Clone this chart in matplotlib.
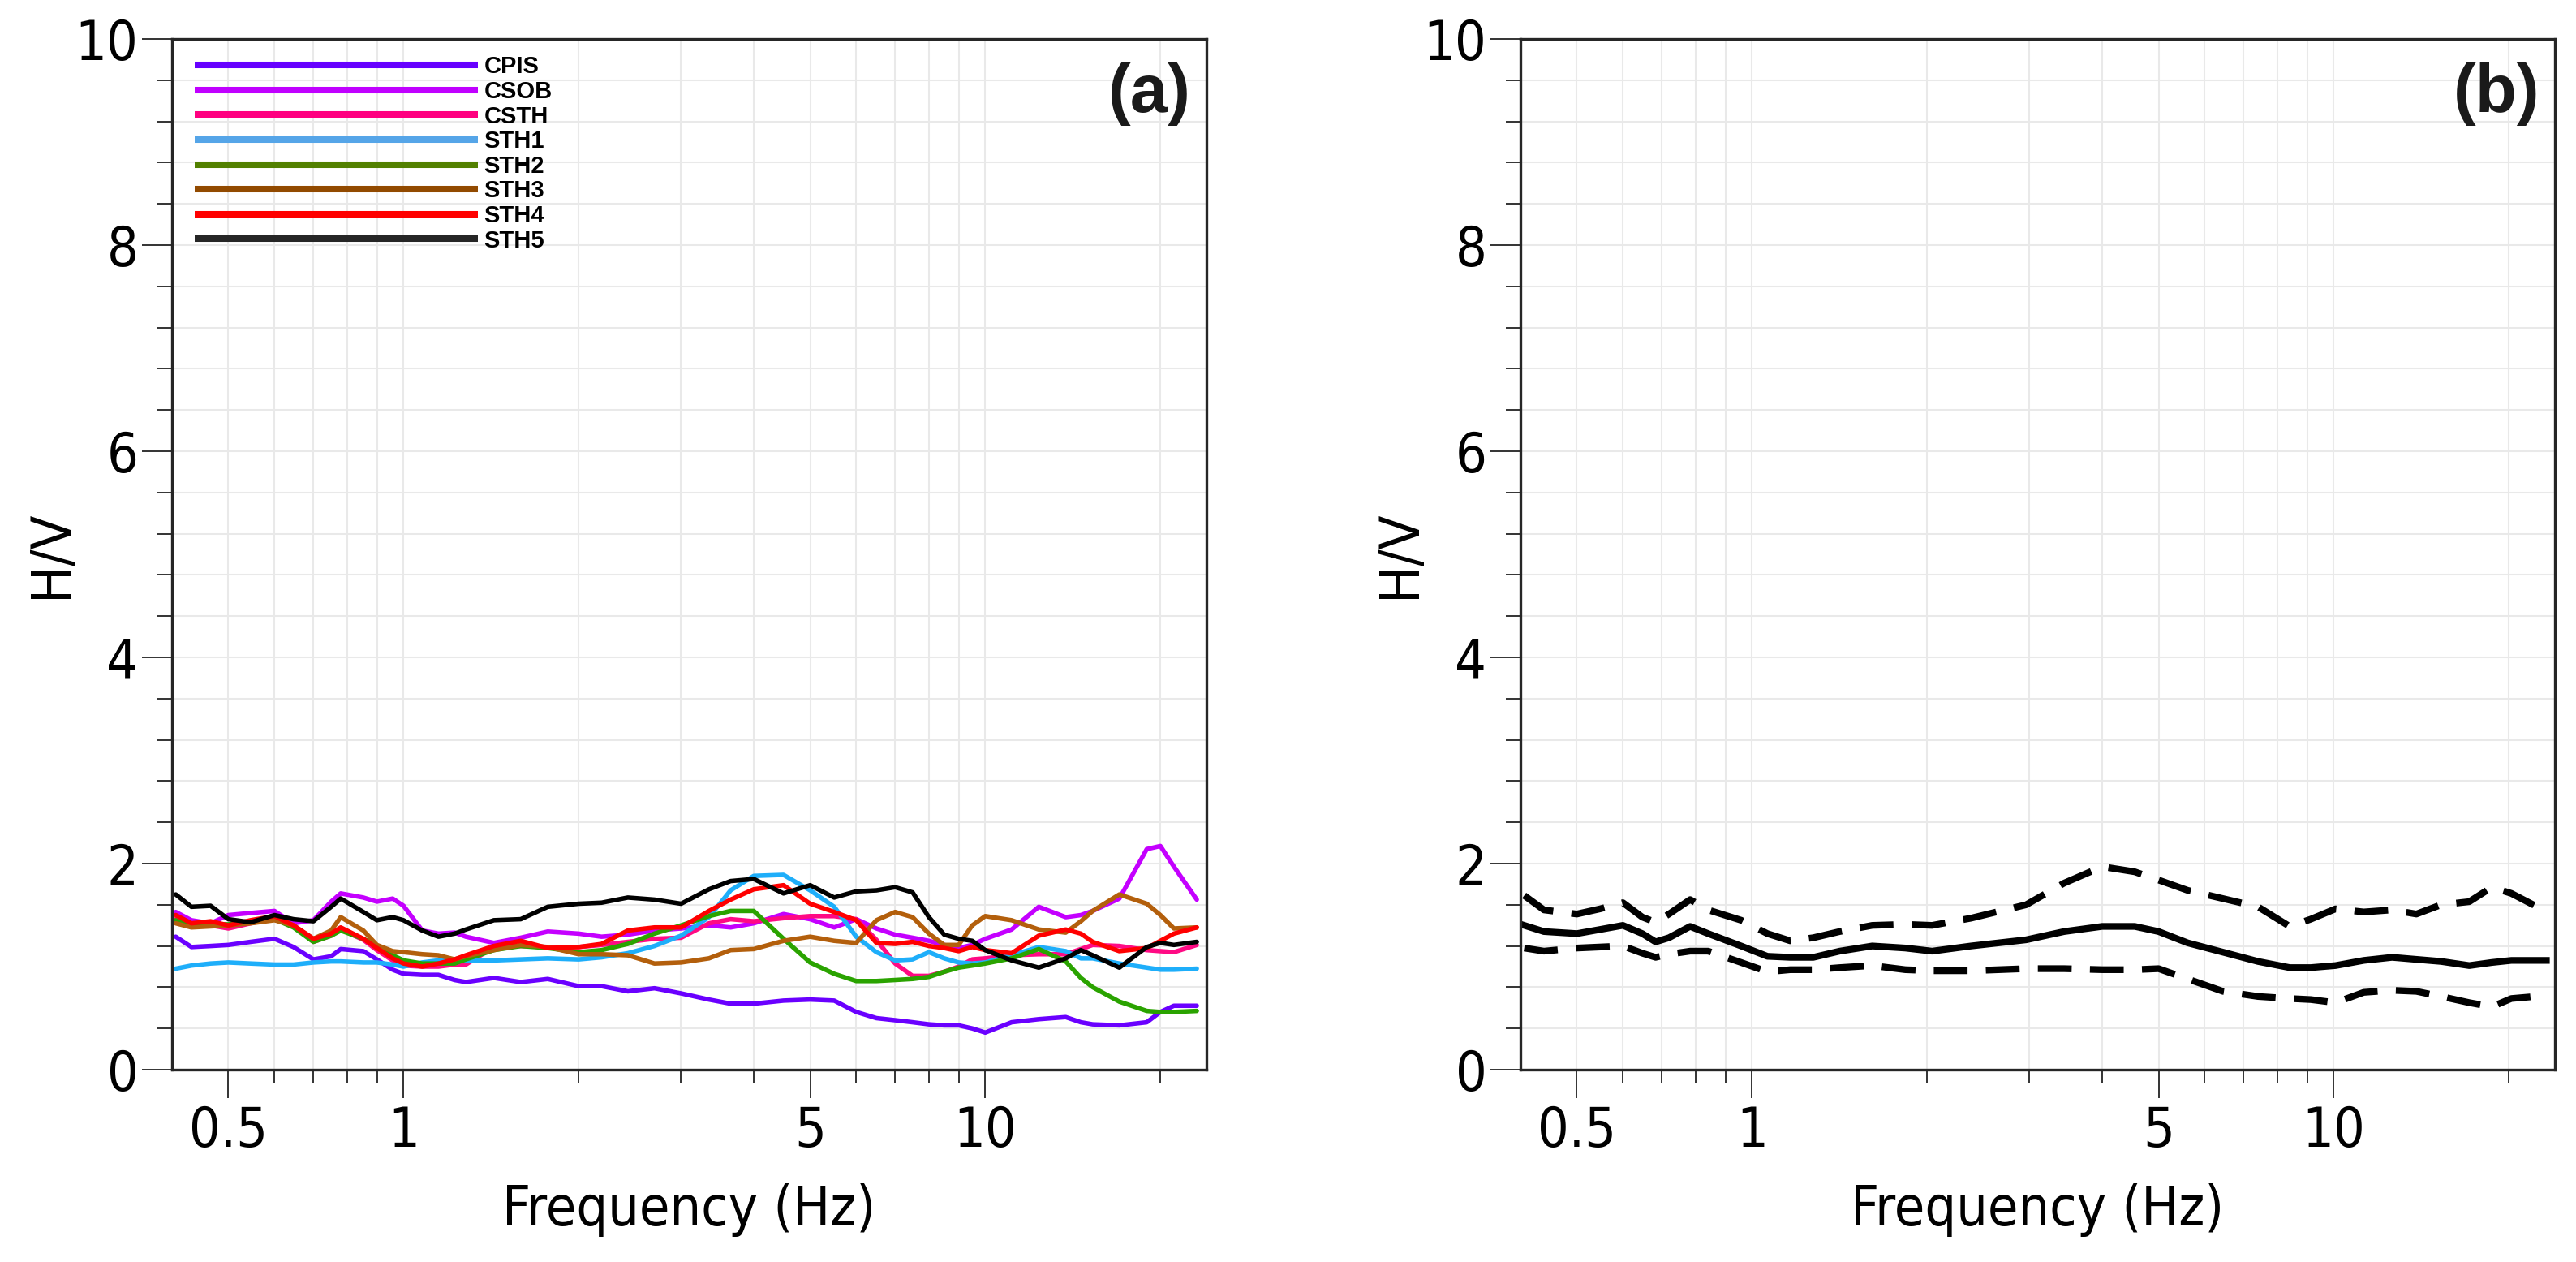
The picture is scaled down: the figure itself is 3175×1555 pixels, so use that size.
import matplotlib
matplotlib.use('Agg')
import matplotlib.pyplot as plt
from matplotlib.ticker import MultipleLocator, NullFormatter
from matplotlib.lines import Line2D

# ---------------- data: panel (a) ----------------
freq_a = [0.406, 0.432, 0.466, 0.5, 0.546, 0.6, 0.647, 0.7, 0.751, 0.78, 0.853, 0.9, 0.958, 1.0,
          1.077, 1.148, 1.224, 1.28, 1.43, 1.59, 1.77, 2.0, 2.19, 2.43, 2.70, 3.0, 3.35, 3.65,
          4.0, 4.5, 5.0, 5.5, 6.0, 6.5, 7.0, 7.5, 8.0, 8.5, 9.0, 9.5, 10.0,
          11.1, 12.36, 13.75, 14.6, 15.3, 17.0, 18.95, 20.0, 21.1, 23.1]

cpis = [1.29, 1.19, 1.20, 1.21, 1.24, 1.27, 1.19, 1.07, 1.10, 1.17, 1.15, 1.07, 0.97, 0.93, 0.92, 0.92, 0.87,
        0.85, 0.89, 0.85, 0.88, 0.81, 0.81, 0.76, 0.79, 0.74, 0.68, 0.64,
        0.64, 0.67, 0.68, 0.67, 0.56, 0.50, 0.48, 0.46, 0.44, 0.43, 0.43, 0.40, 0.36,
        0.46, 0.49, 0.51, 0.46, 0.44, 0.43, 0.46, 0.56, 0.62, 0.62]
csob = [1.53, 1.45, 1.42, 1.50, 1.52, 1.54, 1.42, 1.45, 1.63, 1.71, 1.67, 1.63, 1.66, 1.59, 1.35, 1.32, 1.33,
        1.29, 1.23, 1.28, 1.34, 1.32, 1.29, 1.31, 1.35, 1.37, 1.40, 1.38,
        1.42, 1.51, 1.46, 1.38, 1.46, 1.37, 1.31, 1.28, 1.25, 1.21, 1.18, 1.21, 1.27,
        1.36, 1.58, 1.48, 1.50, 1.54, 1.66, 2.14, 2.17, 1.97, 1.65]
csth = [1.46, 1.40, 1.40, 1.37, 1.42, 1.47, 1.40, 1.24, 1.30, 1.36, 1.26, 1.16, 1.06, 1.01, 1.00, 1.00, 1.02,
        1.02, 1.19, 1.20, 1.19, 1.19, 1.21, 1.24, 1.27, 1.28, 1.42, 1.46,
        1.44, 1.47, 1.49, 1.49, 1.46, 1.26, 1.03, 0.91, 0.91, 0.95, 1.00, 1.07, 1.08,
        1.11, 1.12, 1.12, 1.17, 1.21, 1.20, 1.16, 1.15, 1.14, 1.21]
sth1 = [0.98, 1.01, 1.03, 1.04, 1.03, 1.02, 1.02, 1.04, 1.05, 1.05, 1.04, 1.04, 1.02, 1.00, 1.04, 1.06, 1.07,
        1.06, 1.06, 1.07, 1.08, 1.07, 1.09, 1.13, 1.20, 1.30, 1.48, 1.74,
        1.88, 1.89, 1.74, 1.58, 1.29, 1.14, 1.06, 1.07, 1.14, 1.08, 1.04, 1.03, 1.04,
        1.11, 1.19, 1.15, 1.08, 1.08, 1.03, 0.99, 0.97, 0.97, 0.98]
sth2 = [1.45, 1.40, 1.41, 1.41, 1.43, 1.46, 1.38, 1.24, 1.30, 1.35, 1.27, 1.20, 1.11, 1.06, 1.03, 1.03, 1.03,
        1.07, 1.16, 1.20, 1.18, 1.14, 1.16, 1.22, 1.32, 1.40, 1.49, 1.54,
        1.54, 1.27, 1.04, 0.93, 0.86, 0.86, 0.87, 0.88, 0.90, 0.95, 0.99, 1.01, 1.03,
        1.08, 1.17, 1.05, 0.89, 0.80, 0.66, 0.57, 0.56, 0.56, 0.57]
sth3 = [1.42, 1.38, 1.39, 1.40, 1.42, 1.45, 1.40, 1.27, 1.35, 1.48, 1.35, 1.21, 1.15, 1.14, 1.12, 1.11, 1.07,
        1.10, 1.16, 1.21, 1.19, 1.12, 1.12, 1.11, 1.03, 1.04, 1.08, 1.16,
        1.17, 1.25, 1.29, 1.25, 1.23, 1.45, 1.53, 1.48, 1.32, 1.21, 1.21, 1.40, 1.49,
        1.45, 1.36, 1.33, 1.44, 1.54, 1.70, 1.61, 1.50, 1.37, 1.38]
sth4 = [1.50, 1.42, 1.44, 1.40, 1.45, 1.49, 1.40, 1.27, 1.32, 1.38, 1.27, 1.18, 1.08, 1.03, 1.00, 1.03, 1.07,
        1.11, 1.20, 1.25, 1.18, 1.19, 1.22, 1.35, 1.38, 1.38, 1.54, 1.65,
        1.75, 1.79, 1.61, 1.53, 1.45, 1.23, 1.22, 1.24, 1.20, 1.18, 1.15, 1.19, 1.16,
        1.13, 1.30, 1.36, 1.32, 1.24, 1.15, 1.18, 1.25, 1.32, 1.38]
sth5 = [1.70, 1.58, 1.59, 1.46, 1.43, 1.50, 1.46, 1.44, 1.58, 1.66, 1.53, 1.45, 1.48, 1.45, 1.35, 1.29, 1.32,
        1.36, 1.45, 1.46, 1.58, 1.61, 1.62, 1.67, 1.65, 1.61, 1.75, 1.83,
        1.85, 1.71, 1.79, 1.67, 1.73, 1.74, 1.77, 1.72, 1.48, 1.31, 1.27, 1.25, 1.16,
        1.06, 0.99, 1.08, 1.16, 1.11, 0.99, 1.19, 1.23, 1.21, 1.24]

station_names = ['CPIS', 'CSOB', 'CSTH', 'STH1', 'STH2', 'STH3', 'STH4', 'STH5']
station_series = [cpis, csob, csth, sth1, sth2, sth3, sth4, sth5]
line_colors = ['#6A00FF', '#C400FF', '#FF0A84', '#1EAEFA', '#2AA300', '#B35F0C', '#FF0000', '#000000']
legend_colors = ['#6600FF', '#C000FF', '#FF0080', '#55A5E8', '#528000', '#924A00', '#FF0000', '#262626']

# ---------------- data: panel (b) ----------------
freq_b = [0.406, 0.439, 0.5, 0.548, 0.6, 0.648, 0.683, 0.72, 0.783, 0.841, 0.958, 1.063, 1.164, 1.275,
          1.415, 1.61, 1.835, 2.04, 2.38, 2.96, 3.44, 4.0, 4.55, 5.0, 5.61, 6.45, 7.41, 8.4, 9.13,
          10.07, 11.26, 12.6, 13.87, 15.3, 17.1, 18.7, 20.2, 22.2, 23.2]
hv_mean = [1.40, 1.34, 1.32, 1.36, 1.40, 1.32, 1.24, 1.28, 1.39, 1.32, 1.20, 1.10, 1.09, 1.09,
           1.15, 1.20, 1.18, 1.15, 1.20, 1.26, 1.34, 1.39, 1.39, 1.34, 1.23, 1.14, 1.05, 0.99, 0.99,
           1.01, 1.06, 1.09, 1.07, 1.05, 1.01, 1.04, 1.06, 1.06, 1.06]
hv_upper = [1.69, 1.55, 1.51, 1.56, 1.62, 1.48, 1.43, 1.51, 1.65, 1.55, 1.45, 1.32, 1.25, 1.28,
            1.34, 1.40, 1.41, 1.40, 1.47, 1.60, 1.81, 1.97, 1.92, 1.84, 1.74, 1.66, 1.58, 1.39, 1.46,
            1.56, 1.53, 1.55, 1.51, 1.60, 1.63, 1.77, 1.71, 1.59, 1.55]
hv_lower = [1.18, 1.15, 1.18, 1.19, 1.20, 1.13, 1.09, 1.12, 1.15, 1.15, 1.04, 0.95, 0.97, 0.97,
            0.99, 1.01, 0.97, 0.96, 0.96, 0.98, 0.98, 0.97, 0.97, 0.98, 0.88, 0.76, 0.71, 0.69, 0.68,
            0.65, 0.75, 0.77, 0.76, 0.71, 0.65, 0.61, 0.69, 0.71, 0.72]

x_major = [0.5, 1, 5, 10]
x_major_labels = ['0.5', '1', '5', '10']
x_minor = [0.6, 0.7, 0.8, 0.9, 2, 3, 4, 6, 7, 8, 9, 20]

# ---------------- figure ----------------
plt.rcParams['font.family'] = ['DejaVu Sans']
plt.rcParams['font.stretch'] = 'condensed'

W, H = 3175, 1555
fig = plt.figure(figsize=(W / 100, H / 100), dpi=100)
fig.patch.set_facecolor('white')

ax_h = 1270 / H
ax_w = 1275 / W
ax_bot = (H - 1318) / H
ax_a = fig.add_axes([212 / W, ax_bot, ax_w, ax_h])
ax_b = fig.add_axes([1874 / W, ax_bot, ax_w, ax_h])

LABEL_FS = 49


def style_axes(ax, tag):
    ax.set_xscale('log')
    ax.set_xlim(0.4, 24)
    ax.set_ylim(0, 10)
    ax.set_xticks(x_major, labels=x_major_labels)
    ax.set_xticks(x_minor, minor=True)
    ax.xaxis.set_minor_formatter(NullFormatter())
    ax.yaxis.set_major_locator(MultipleLocator(2))
    ax.yaxis.set_minor_locator(MultipleLocator(0.4))
    ax.grid(which='both', color='#e9e9e9', lw=1.5)
    ax.set_axisbelow(True)
    for sp in ax.spines.values():
        sp.set_linewidth(2.4)
        sp.set_color('#262626')
    ax.tick_params(axis='both', which='both', direction='out', color='#333333', width=1.4,
                   labelsize=LABEL_FS)
    ax.tick_params(axis='x', which='major', length=25, pad=6)
    ax.tick_params(axis='x', which='minor', length=12)
    ax.tick_params(axis='y', which='major', length=27, pad=3)
    ax.tick_params(axis='y', which='minor', length=13)
    ax.set_xlabel('Frequency (Hz)', fontsize=LABEL_FS)
    ax.set_ylabel('H/V', fontsize=LABEL_FS)
    ax.xaxis.set_label_coords(0.5, -0.110)
    ax.yaxis.set_label_coords(-0.117, 0.5)
    ax.yaxis.label.set_verticalalignment('center')
    ax.text(0.985, 0.977, tag, transform=ax.transAxes, ha='right', va='top',
            fontsize=60, fontweight='bold', family=['Liberation Sans', 'DejaVu Sans'],
            fontstretch='normal', color='#1a1a1a')


style_axes(ax_a, '(a)')
style_axes(ax_b, '(b)')

# panel (a) curves
for name, vals, col in zip(station_names, station_series, line_colors):
    ax_a.plot(freq_a, vals, color=col, lw=4.0, solid_joinstyle='round', solid_capstyle='round')

handles = [Line2D([0], [0], color=c, lw=5.8, solid_capstyle='butt') for c in legend_colors]
ax_a.legend(handles, station_names, loc='upper left', bbox_to_anchor=(0.022, 0.984),
            frameon=False, borderpad=0, borderaxespad=0, handlelength=11.95,
            handletextpad=0.27, labelspacing=0.09,
            prop={'family': ['Liberation Sans Narrow', 'Liberation Sans'], 'weight': 'bold',
                  'size': 21, 'stretch': 'condensed'})

# panel (b) curves
ax_b.plot(freq_b, hv_mean, color='black', lw=6, solid_joinstyle='round')
ax_b.plot(freq_b, hv_upper, color='black', lw=6, linestyle=(0, (5, 2.7)))
ax_b.plot(freq_b, hv_lower, color='black', lw=6, linestyle=(0, (5, 2.7)))

fig.savefig('out.png', dpi=100, facecolor='white')
